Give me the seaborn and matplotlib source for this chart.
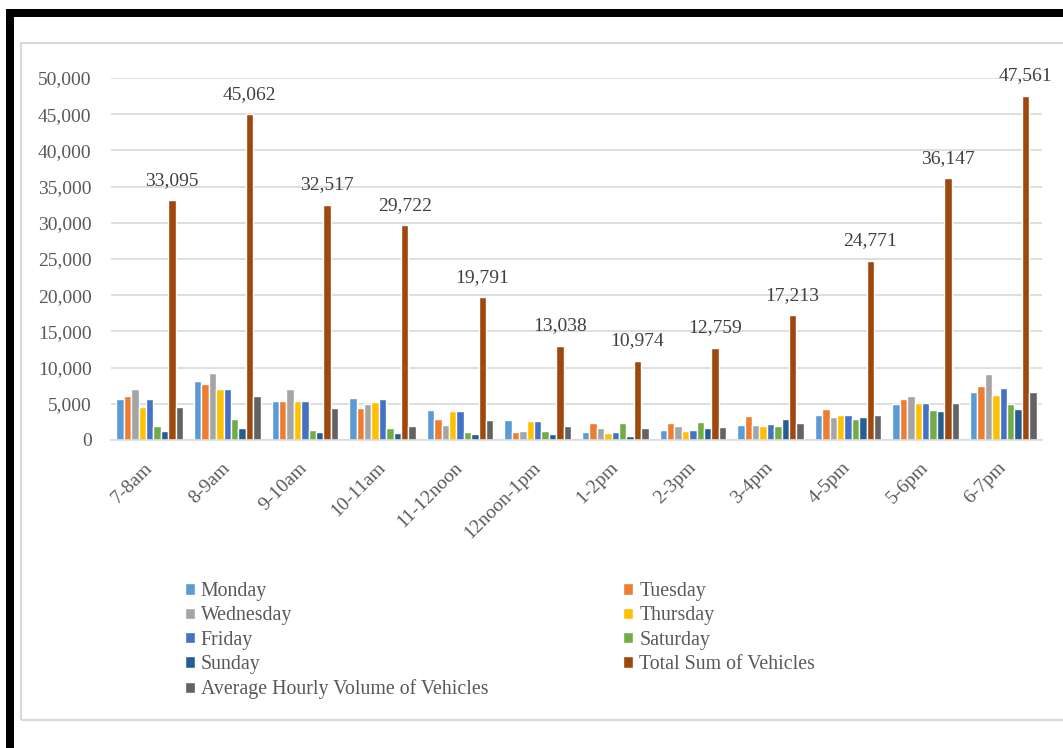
import matplotlib
matplotlib.use("Agg")
import matplotlib.pyplot as plt
from matplotlib.patches import Rectangle
from matplotlib.ticker import FuncFormatter
import seaborn as sns
import pandas as pd

hours = ["7-8am", "8-9am", "9-10am", "10-11am", "11-12noon", "12noon-1pm",
         "1-2pm", "2-3pm", "3-4pm", "4-5pm", "5-6pm", "6-7pm"]
monday = [5700, 8100, 5450, 5800, 4100, 2800, 1150, 1400, 2050, 3450, 5000, 6650]
tuesday = [6100, 7800, 5450, 4400, 2950, 1150, 2400, 2300, 3300, 4300, 5700, 7450]
wednesday = [7100, 9200, 7000, 4950, 2050, 1300, 1600, 1900, 2050, 3150, 6100, 9150]
thursday = [4600, 7000, 5450, 5200, 3950, 2600, 900, 1300, 1950, 3450, 5050, 6250]
friday = [5700, 7100, 5450, 5700, 4050, 2600, 1150, 1400, 2150, 3500, 5050, 7200]
saturday = [1950, 2900, 1350, 1700, 1050, 1300, 2350, 2550, 1950, 2850, 4100, 5000]
sunday = [1300, 1700, 1100, 900, 800, 800, 550, 1600, 2850, 3150, 4000, 4300]
total = [33095, 45062, 32517, 29722, 19791, 13038, 10974, 12759, 17213, 24771, 36147, 47561]
average = [4600, 6100, 4400, 2000, 2700, 1900, 1600, 1750, 2400, 3450, 5050, 6650]

series_names = ["Monday", "Tuesday", "Wednesday", "Thursday", "Friday", "Saturday",
                "Sunday", "Total Sum of Vehicles", "Average Hourly Volume of Vehicles"]
series_values = [monday, tuesday, wednesday, thursday, friday, saturday, sunday, total, average]
colors = ["#5B9BD5", "#ED7D31", "#A5A5A5", "#FFC000", "#4472C4", "#70AD47",
          "#255E91", "#9E480E", "#636363"]

rows = []
for name, vals in zip(series_names, series_values):
    for h, v in zip(hours, vals):
        rows.append({"hour": h, "series": name, "value": v})
df = pd.DataFrame(rows)

sns.set_style("white")
plt.rcParams["font.family"] = ["Liberation Serif", "DejaVu Serif"]

W, H = 1063, 748
fig = plt.figure(figsize=(W / 100, H / 100), dpi=100)
fig.patch.set_facecolor("white")

left, right, top, bottom = 111, 1042, 78, 440
ax = fig.add_axes([left / W, 1 - bottom / H, (right - left) / W, (bottom - top) / H])

sns.barplot(data=df, x="hour", y="value", hue="series", hue_order=series_names,
            order=hours, palette=colors, saturation=1, width=0.86, errorbar=None,
            ax=ax)

ax.set_ylim(0, 50000)
ax.set_xlim(-0.5, len(hours) - 0.5)
ax.set_yticks(range(0, 50001, 5000))
ax.yaxis.set_major_formatter(FuncFormatter(lambda v, p: f"{int(v):,}"))
ax.grid(axis="y", color="#D9D9D9", linewidth=1.2)
ax.set_axisbelow(True)
for s in ["top", "right", "left"]:
    ax.spines[s].set_visible(False)
ax.spines["bottom"].set_color("#D9D9D9")
ax.spines["bottom"].set_linewidth(1.2)
ax.set_xlabel("")
ax.set_ylabel("")
ax.tick_params(axis="y", length=0, pad=14, labelsize=14, labelcolor="#595959")
ax.tick_params(axis="x", length=0, pad=18, labelsize=14, labelcolor="#595959")
for lbl in ax.get_xticklabels():
    lbl.set_rotation(45)
    lbl.set_ha("right")
    lbl.set_va("center")
    lbl.set_rotation_mode("anchor")

# total labels
total_container = ax.containers[series_names.index("Total Sum of Vehicles")]
ax.bar_label(total_container, labels=[f"{v:,}" for v in total], padding=8,
             fontsize=14, color="#404040", clip_on=False)

handles, labels = ax.get_legend_handles_labels()
ax.get_legend().remove()
order = [0, 2, 4, 6, 8, 1, 3, 5, 7]
fig.legend([handles[i] for i in order], [labels[i] for i in order], ncol=2,
           loc="upper left", bbox_to_anchor=(185 / W, 1 - 582 / H), frameon=False,
           fontsize=14.3, labelcolor="#595959", handlelength=0.5, handleheight=0.5,
           handletextpad=0.3, columnspacing=6.8, labelspacing=0.27, borderpad=0,
           borderaxespad=0)

# chart area frame and outer black border
def px_rect(x0, y0, x1, y1, **kw):
    r = Rectangle((x0 / W, 1 - y1 / H), (x1 - x0) / W, (y1 - y0) / H,
                  transform=fig.transFigure, **kw)
    fig.add_artist(r)

px_rect(21, 43, 1070, 720, facecolor="none", edgecolor="#D9D9D9", linewidth=1.5)
px_rect(6, 9, 1070, 17, facecolor="black", edgecolor="none")
px_rect(6, 9, 14, 760, facecolor="black", edgecolor="none")

fig.savefig("out.png", dpi=100)
